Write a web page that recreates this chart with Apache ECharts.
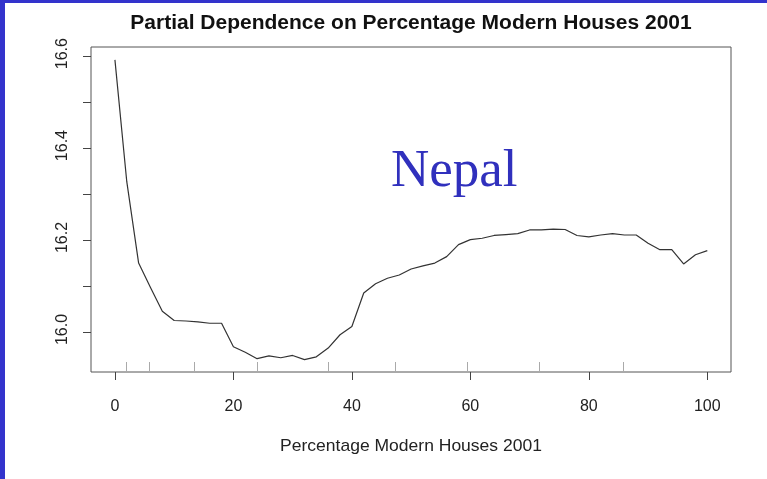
<!DOCTYPE html>
<html>
<head>
<meta charset="utf-8">
<style>
  html, body { margin: 0; padding: 0; background: #ffffff; }
  #chart { width: 767px; height: 479px; }
</style>
<script src="https://cdn.jsdelivr.net/npm/echarts@6/dist/echarts.min.js"></script>
</head>
<body>
<div id="chart"></div>
<script>
// Partial dependence curve: percentage of modern houses (2001) vs predicted response
const pctModern = [0, 2, 4, 6, 8, 10, 12, 14, 16, 18, 20, 22, 24, 26, 28, 30, 32, 34, 36, 38, 40,
  42, 44, 46, 48, 50, 52, 54, 56, 58, 60, 62, 64, 66, 68, 70, 72, 74, 76, 78, 80,
  82, 84, 86, 88, 90, 92, 94, 96, 98, 100];
const partialDep = [16.593, 16.328, 16.151, 16.098, 16.046, 16.026, 16.025, 16.023, 16.020, 16.020, 15.969,
  15.957, 15.943, 15.949, 15.945, 15.950, 15.941, 15.947, 15.966, 15.995, 16.013,
  16.086, 16.106, 16.118, 16.125, 16.138, 16.145, 16.151, 16.165, 16.191, 16.202,
  16.205, 16.211, 16.213, 16.215, 16.223, 16.223, 16.225, 16.224, 16.211, 16.208,
  16.212, 16.215, 16.212, 16.212, 16.194, 16.180, 16.180, 16.149, 16.169, 16.178];

// Deciles of the predictor, drawn as a rug along the bottom
const rugDeciles = [1.9, 5.8, 13.4, 24.0, 36.0, 47.3, 59.4, 71.6, 85.8];

// Axis ticks and labels
const xTicks = [0, 20, 40, 60, 80, 100];
const yTicks = [16.0, 16.1, 16.2, 16.3, 16.4, 16.5, 16.6];
const yLabels = [16.0, 16.2, 16.4, 16.6];

const X_MIN = -4.04, X_MAX = 104;
const Y_MIN = 15.914, Y_MAX = 16.621;

const SANS = '"Liberation Sans", Arial, Helvetica, sans-serif';

const chart = echarts.init(document.getElementById('chart'), null, { renderer: 'canvas' });

const linePoints = pctModern.map((x, i) => [x, partialDep[i]]);

chart.setOption({
  animation: false,
  backgroundColor: '#ffffff',
  grid: {
    left: 91, top: 47, right: 36, bottom: 107,
    show: true,
    borderColor: '#555555',
    borderWidth: 1,
    backgroundColor: 'transparent'
  },
  xAxis: {
    type: 'value',
    min: X_MIN,
    max: X_MAX,
    axisLine: { show: false, onZero: false },
    splitLine: { show: false },
    axisTick: {
      show: true,
      length: 8,
      customValues: xTicks,
      lineStyle: { color: '#444444', width: 1 }
    },
    axisLabel: {
      customValues: xTicks,
      margin: 27,
      fontFamily: SANS,
      fontSize: 16,
      color: '#222222'
    }
  },
  yAxis: {
    type: 'value',
    min: Y_MIN,
    max: Y_MAX,
    axisLine: { show: false, onZero: false },
    splitLine: { show: false },
    axisTick: {
      show: true,
      length: 8,
      customValues: yTicks,
      lineStyle: { color: '#444444', width: 1 }
    },
    axisLabel: {
      customValues: yLabels,
      rotate: 90,
      margin: 20,
      padding: [0, 0, 0, 6],
      formatter: v => v.toFixed(1),
      fontFamily: SANS,
      fontSize: 16,
      color: '#222222'
    }
  },
  series: [
    {
      type: 'line',
      data: linePoints,
      showSymbol: false,
      symbol: 'none',
      lineStyle: { color: '#333333', width: 1.2 },
      silent: true
    },
    {
      type: 'custom',
      data: rugDeciles.map(v => [v]),
      silent: true,
      renderItem: function (params, api) {
        const p = api.coord([api.value(0), Y_MIN]);
        const x = Math.round(p[0]) + 0.5;
        return {
          type: 'line',
          shape: { x1: x, y1: p[1], x2: x, y2: p[1] - 10 },
          style: { stroke: '#aaaaaa', lineWidth: 1 }
        };
      }
    }
  ],
  graphic: [
    {
      type: 'text',
      x: 411,
      y: 23,
      scaleX: 1.05,
      style: {
        text: 'Partial Dependence on Percentage Modern Houses 2001',
        font: 'bold 20px ' + SANS,
        fill: '#111111',
        align: 'center',
        verticalAlign: 'middle'
      }
    },
    {
      type: 'text',
      x: 411,
      y: 446,
      scaleX: 1.03,
      style: {
        text: 'Percentage Modern Houses 2001',
        font: '17px ' + SANS,
        fill: '#222222',
        align: 'center',
        verticalAlign: 'middle'
      }
    },
    {
      type: 'text',
      x: 391,
      y: 146,
      style: {
        text: 'Nepal',
        font: '53px "Liberation Serif", "Times New Roman", serif',
        fill: '#3030bd'
      }
    },
    {
      type: 'rect',
      x: 0, y: 0,
      shape: { width: 5, height: 479 },
      style: { fill: '#3333cc' }
    },
    {
      type: 'rect',
      x: 0, y: 0,
      shape: { width: 767, height: 3 },
      style: { fill: '#3333cc' }
    }
  ]
});
</script>
</body>
</html>
